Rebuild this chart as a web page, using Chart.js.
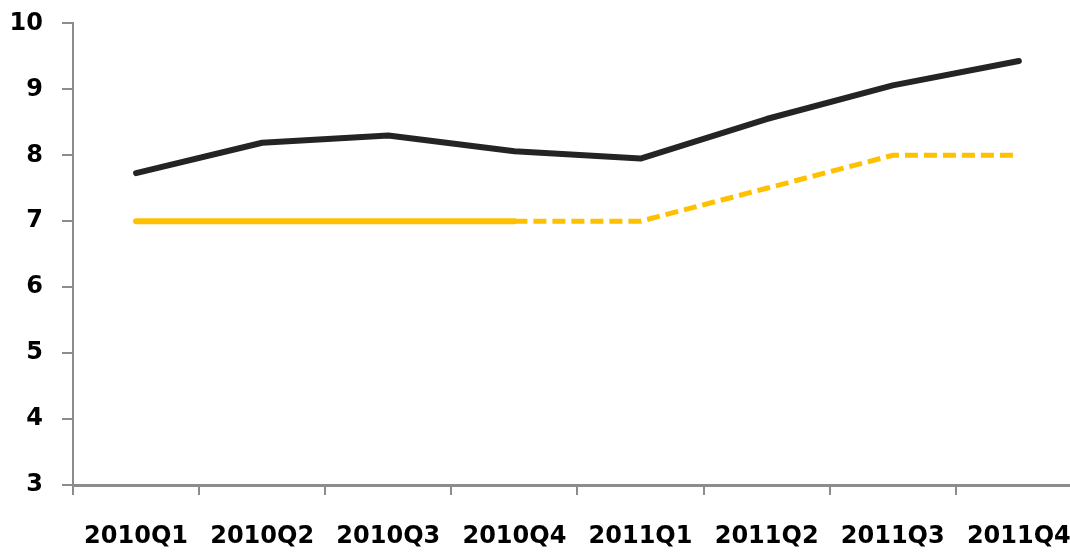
<!DOCTYPE html>
<html>
<head>
<meta charset="utf-8">
<script src="https://cdn.jsdelivr.net/npm/chart.js@4/dist/chart.umd.min.js"></script>
<style>
  html, body { margin: 0; padding: 0; background: #fff; overflow: hidden; }
  #wrap { width: 1098px; height: 562px; margin-top: -10px; }
</style>
</head>
<body>
<div id="wrap"><canvas id="myChart"></canvas></div>
<script>
// quarters on the x axis
const quarters = ['2010Q1', '2010Q2', '2010Q3', '2010Q4', '2011Q1', '2011Q2', '2011Q3', '2011Q4'];
// black line
const actualSeries = [7.73, 8.19, 8.3, 8.06, 7.95, 8.55, 9.06, 9.43];
// yellow line, solid part then the dashed forecast
const targetSolid = [7, 7, 7, 7, null, null, null, null];
const targetDashed = [null, null, null, 7, 7, 7.5, 8, 8];
// y axis range
const yMin = 3;
const yMax = 10;

const axisGray = '#8c8c8c';
const labelFont = { family: 'DejaVu Sans', size: 24, weight: 'bold' };

function renderChart() {
    const ctx = document.getElementById('myChart').getContext('2d');
    new Chart(ctx, {
        type: 'line',
        data: {
            labels: quarters,
            datasets: [
                {
                    data: targetSolid,
                    borderColor: '#FFC000',
                    borderWidth: 6,
                    borderCapStyle: 'round',
                    pointRadius: 0,
                    spanGaps: false
                },
                {
                    data: targetDashed,
                    borderColor: '#FFC000',
                    borderWidth: 5,
                    borderDash: [13, 6],
                    pointRadius: 0,
                    spanGaps: false
                },
                {
                    data: actualSeries,
                    borderColor: '#242424',
                    borderWidth: 6,
                    borderCapStyle: 'round',
                    borderJoinStyle: 'round',
                    pointRadius: 0
                }
            ]
        },
        options: {
            responsive: true,
            maintainAspectRatio: false,
            animation: false,
            layout: { padding: { top: 12, right: 3, left: 0, bottom: 0 } },
            plugins: {
                legend: { display: false },
                tooltip: { enabled: false }
            },
            elements: { line: { tension: 0 } },
            scales: {
                x: {
                    offset: true,
                    grid: {
                        offset: true,
                        drawOnChartArea: false,
                        color: axisGray,
                        lineWidth: 2,
                        tickLength: 10
                    },
                    border: { color: axisGray, width: 3 },
                    ticks: {
                        color: '#000',
                        font: labelFont,
                        padding: 27,
                        maxRotation: 0,
                        autoSkip: false
                    },
                    afterFit: function (scale) { scale.height = 67; }
                },
                y: {
                    min: yMin,
                    max: yMax,
                    grid: {
                        drawOnChartArea: false,
                        color: axisGray,
                        lineWidth: 2,
                        tickLength: 11
                    },
                    border: { color: axisGray, width: 2 },
                    ticks: {
                        stepSize: 1,
                        color: '#000',
                        font: labelFont,
                        padding: 19
                    },
                    afterFit: function (scale) { scale.width = 73; }
                }
            }
        }
    });
}

document.addEventListener('DOMContentLoaded', renderChart);
</script>
</body>
</html>
